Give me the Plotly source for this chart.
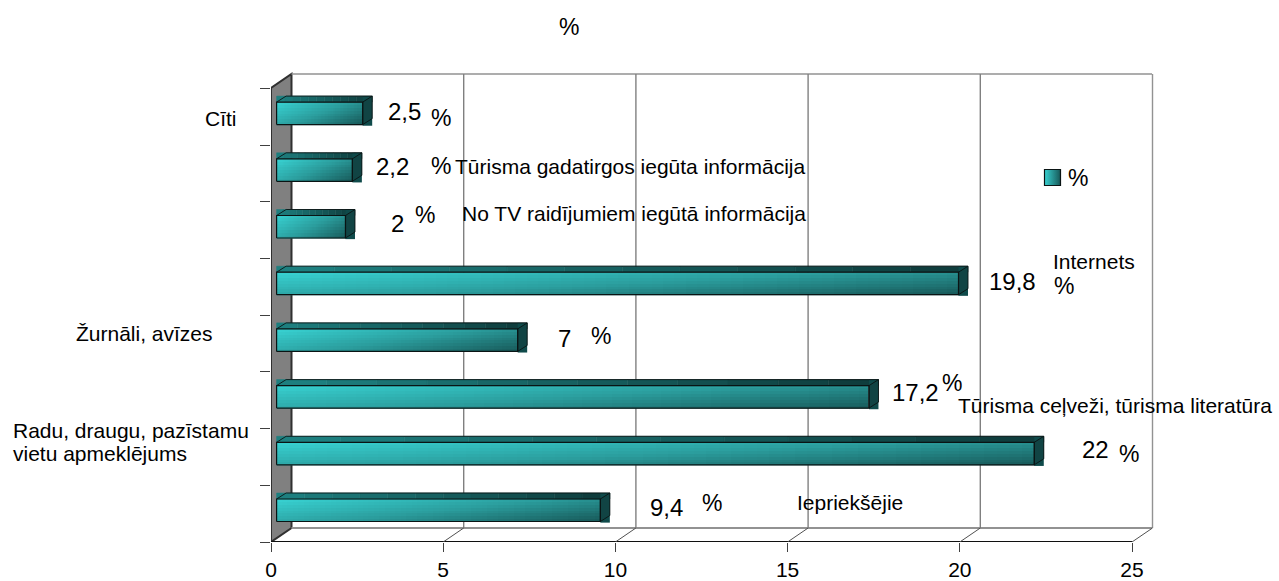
import plotly.graph_objects as go

# bottom to top, same order as the reference
values = [9.4, 22, 17.2, 7, 19.8, 2, 2.2, 2.5]
value_labels = ["9,4", "22", "17,2", "7", "19,8", "2", "2,2", "2,5"]
x_ticks = [0, 5, 10, 15, 20, 25]
n_slots = len(values)

WIDTH, HEIGHT = 1279, 581
LEFT, RIGHT, TOP, BOTTOM = 271, 1152, 74, 542
PAD = 3  # room past the box so its far edges are not clipped
PX_PER_X = 34.44
PX_PER_SLOT = 56.7

x_max = (RIGHT - LEFT) / PX_PER_X
y_max = (BOTTOM - TOP) / PX_PER_SLOT

# depth of the fake 3D box, in axis units
WALL_DX = 20.5 / PX_PER_X
WALL_DY = 14 / PX_PER_SLOT
BAR_X0 = 5.6 / PX_PER_X
BAR_Y0 = 20.5 / PX_PER_SLOT
BAR_H = 22.5 / PX_PER_SLOT
DEPTH_X = 9.5 / PX_PER_X
DEPTH_Y = 6 / PX_PER_SLOT

WALL_COLOR = "#808080"
GRID_COLOR = "#808080"


def lerp_color(c0, c1, t):
    parts = [round(a + (b - a) * t) for a, b in zip(c0, c1)]
    return "rgb({},{},{})".format(*parts)


def poly(xs, ys, fill, line="rgba(0,0,0,0)", width=0.5):
    return go.Scatter(
        x=xs + xs[:1],
        y=ys + ys[:1],
        mode="lines",
        fill="toself",
        fillcolor=fill,
        line=dict(color=line, width=width),
        hoverinfo="skip",
        showlegend=False,
    )


def outline(xs, ys, color="#0a1414", width=1.2):
    return go.Scatter(
        x=xs,
        y=ys,
        mode="lines",
        line=dict(color=color, width=width),
        hoverinfo="skip",
        showlegend=False,
    )


fig = go.Figure()

for i, v in enumerate(values):
    x0 = BAR_X0
    x1 = BAR_X0 + v
    y0 = i + BAR_Y0
    y1 = y0 + BAR_H

    # front face with a diagonal gradient
    cols, rows = 60, 8
    xs = [x0 + (x1 - x0) * c / cols for c in range(cols + 1)]
    ys = [y0 + (y1 - y0) * r / rows for r in range(rows + 1)]
    z = [
        [0.6 * (c + 0.5) / cols + 0.4 * (1 - (r + 0.5) / rows) for c in range(cols)]
        for r in range(rows)
    ]
    fig.add_trace(
        go.Heatmap(
            x=xs,
            y=ys,
            z=z,
            zmin=0,
            zmax=1,
            colorscale=[[0, "#38D2D2"], [0.5, "#2B9E9E"], [1, "#175858"]],
            showscale=False,
            hoverinfo="skip",
        )
    )

    # top band, sliced so it can darken towards the right
    slices = 12
    end = x1 + DEPTH_X
    for s in range(slices):
        a = x0 + (end - x0) * s / slices
        b = x0 + (end - x0) * (s + 1) / slices
        color = lerp_color((30, 130, 130), (14, 58, 58), (s + 0.5) / slices)
        fig.add_trace(
            poly(
                [a, b, b, a],
                [y1, y1, y1 + DEPTH_Y, y1 + DEPTH_Y],
                color,
                line=color,
            )
        )

    # dark box behind the side face, then the side face itself
    fig.add_trace(
        poly(
            [x1, x1 + DEPTH_X, x1 + DEPTH_X, x1],
            [y0 - 0.02, y0 - 0.02, y1 + DEPTH_Y, y1 + DEPTH_Y],
            "#0f4a4a",
        )
    )
    fig.add_trace(
        poly(
            [x1, x1 + DEPTH_X, x1 + DEPTH_X, x1],
            [y0, y0 + DEPTH_Y, y1 + DEPTH_Y, y1],
            "#114444",
        )
    )
    fig.add_trace(outline([x0, x1, x1, x0, x0], [y0, y0, y1, y1, y0]))
    fig.add_trace(
        outline(
            [x0, x0 + DEPTH_X, x1 + DEPTH_X, x1 + DEPTH_X, x1, x1, x1 + DEPTH_X],
            [y1, y1 + DEPTH_Y, y1 + DEPTH_Y, y0 + DEPTH_Y, y0, y1, y1 + DEPTH_Y],
            width=0.9,
        )
    )

# legend swatch
fig.add_trace(
    go.Scatter(
        x=[(1052.5 - LEFT) / PX_PER_X],
        y=[(BOTTOM - 177.5) / PX_PER_SLOT],
        mode="markers",
        marker=dict(
            symbol="square",
            size=16,
            color="#38D2D2",
            gradient=dict(type="horizontal", color="#175858"),
            line=dict(color="#0a1414", width=1.2),
        ),
        hoverinfo="skip",
        showlegend=False,
    )
)

# box: grey wall, back wall gridlines, floor
shapes = [
    dict(
        type="path",
        path=f"M 0 0 L {WALL_DX} {WALL_DY} L {WALL_DX} {y_max} L 0 {y_max - WALL_DY} Z",
        fillcolor=WALL_COLOR,
        line=dict(color="#303030", width=2),
    ),
    dict(type="line", x0=WALL_DX, x1=x_max, y0=y_max, y1=y_max,
         line=dict(color="#929292", width=1.6)),
    dict(type="line", x0=WALL_DX, x1=x_max, y0=WALL_DY, y1=WALL_DY,
         line=dict(color="#929292", width=2)),
    dict(type="line", x0=0, x1=25, y0=0, y1=0, line=dict(color="#101010", width=2)),
]
for t in x_ticks:
    if t > 0:
        grid = "#929292" if t == x_ticks[-1] else GRID_COLOR
        shapes.append(dict(type="line", x0=t + WALL_DX, x1=t + WALL_DX, y0=WALL_DY, y1=y_max,
                           line=dict(color=grid, width=1.4)))
        shapes.append(dict(type="line", x0=t, x1=t + WALL_DX, y0=0, y1=WALL_DY,
                           line=dict(color="#505050", width=1)))
for s in shapes:
    s.update(xref="x", yref="y", layer="below")


def text(label, px, py, size=21, xanchor="left"):
    return dict(
        text=label,
        x=(px - LEFT) / (RIGHT + PAD - LEFT),
        y=(BOTTOM - py) / (BOTTOM - TOP + PAD),
        xref="paper",
        yref="paper",
        xanchor=xanchor,
        yanchor="middle",
        showarrow=False,
        align="left",
        font=dict(size=size),
        borderpad=0,
    )


NUM = 24
PCT = 23
annotations = [
    text("%", 569, 27, size=PCT, xanchor="center"),
    text("Cīti", 204, 118),
    text("Tūrisma gadatirgos iegūta informācija", 454, 167),
    text("No TV raidījumiem iegūtā informācija", 461, 213),
    text("Internets", 1052, 261),
    text("Žurnāli, avīzes", 75, 333),
    text("Tūrisma ceļveži, tūrisma literatūra", 957, 405),
    text("Radu, draugu, pazīstamu", 12, 430),
    text("vietu apmeklējums", 12, 453),
    text("Iepriekšējie", 796, 502),
    text("%", 1067, 178, size=PCT),
    # value labels and the loose percent signs next to them
    text(value_labels[7], 387, 111, NUM),
    text("%", 430, 118, PCT),
    text(value_labels[6], 375, 167, NUM),
    text("%", 430, 166, PCT),
    text(value_labels[5], 390, 223, NUM),
    text("%", 414, 215, PCT),
    text(value_labels[4], 988, 281, NUM),
    text("%", 1053, 286, PCT),
    text(value_labels[3], 557, 338, NUM),
    text("%", 590, 336, PCT),
    text(value_labels[2], 891, 392, NUM),
    text("%", 941, 383, PCT),
    text(value_labels[1], 1081, 449, NUM),
    text("%", 1118, 454, PCT),
    text(value_labels[0], 649, 507, NUM),
    text("%", 701, 503, PCT),
]

fig.update_layout(
    width=WIDTH,
    height=HEIGHT,
    margin=dict(l=LEFT, r=WIDTH - RIGHT - PAD, t=TOP - PAD, b=HEIGHT - BOTTOM),
    paper_bgcolor="white",
    plot_bgcolor="white",
    font=dict(family="Liberation Sans", color="black"),
    showlegend=False,
    shapes=shapes,
    annotations=annotations,
    xaxis=dict(
        range=[0, x_max + PAD / PX_PER_X],
        tickvals=x_ticks,
        ticks="outside",
        ticklen=9,
        tickcolor="#404040",
        tickfont=dict(size=21),
        showgrid=False,
        zeroline=False,
        showline=False,
        automargin=False,
    ),
    yaxis=dict(
        range=[0, y_max + PAD / PX_PER_SLOT],
        tickvals=list(range(n_slots + 1)),
        ticktext=[""] * (n_slots + 1),
        ticks="outside",
        ticklen=10,
        tickcolor="#404040",
        showgrid=False,
        zeroline=False,
        showline=False,
        automargin=False,
    ),
)

fig.write_html(
    "out.html",
    config=dict(displayModeBar=False),
    post_script="document.body.style.margin='0'",
)
